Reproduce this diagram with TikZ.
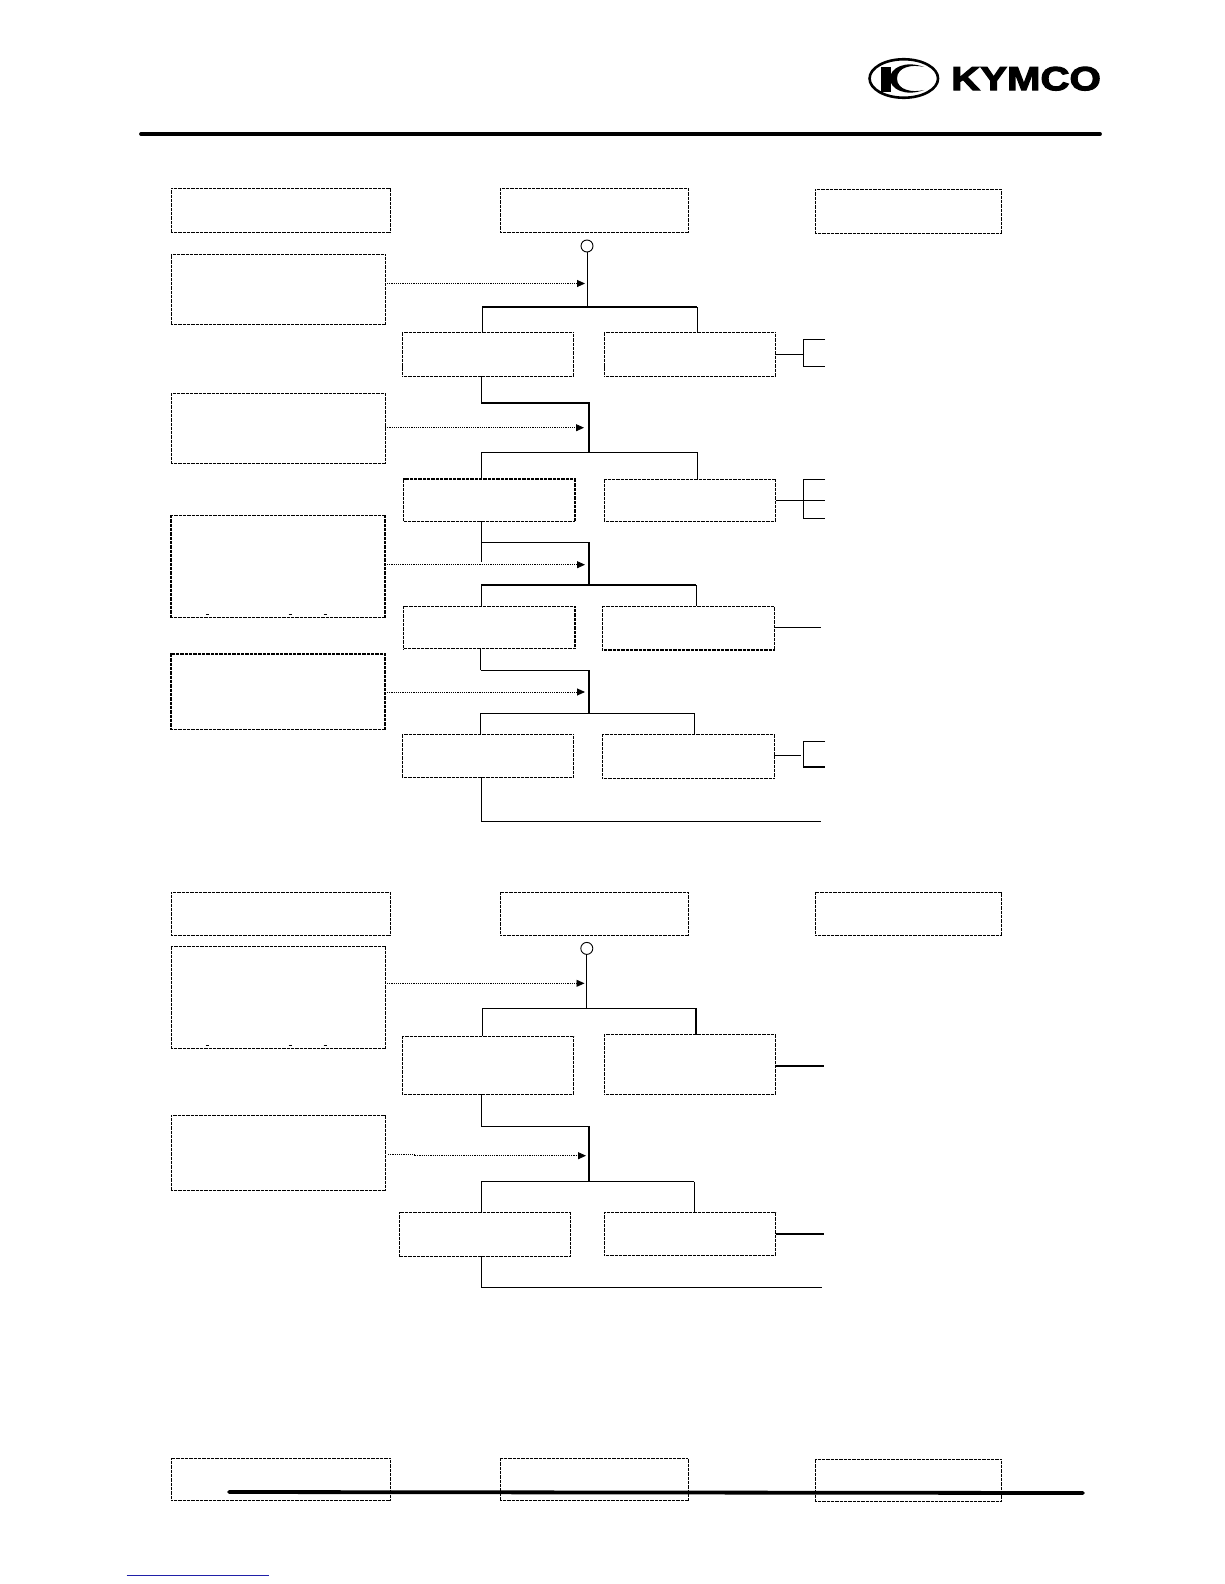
\documentclass[tikz,border=0pt]{standalone}
\usepackage{xcolor}
\usepackage{fontspec}
\setmainfont{Liberation Sans}
\newfontfamily\brandfont[FakeBold=3]{Liberation Sans Bold}
\usetikzlibrary{arrows.meta,calc,shapes.geometric}
\definecolor{linkblue}{HTML}{2020A8}
\tikzset{
  >={Stealth[length=8pt,width=7pt,inset=0pt]},
  box/.style={draw=black,line width=1pt,dash pattern=on 1pt off 0.3pt,inner sep=0pt,outer sep=0pt,anchor=north west},
  boxb/.style={box,line width=1.5pt},
  wh/.style 2 args={minimum width=#1pt,minimum height=#2pt},
  link/.style={draw=black,line width=0.9pt},
  linkb/.style={draw=black,line width=1.5pt},
  feed/.style={draw=black,line width=0.9pt,dash pattern=on 1.2pt off 1pt,->},
  rule/.style={draw=black,line width=3.8pt,line cap=round},
  start/.style={circle,draw=black,line width=0.9pt,minimum size=12pt,inner sep=0pt,outer sep=0pt},
}
\begin{document}
\begin{tikzpicture}[x=1pt,y=-1pt]
  \useasboundingbox (0,0) rectangle (1224,1584);
  % logo
  \node[draw=black,line width=2.6pt,ellipse,minimum width=68.5pt,minimum height=38.5pt,inner sep=0pt,outer sep=0pt] (ring) at (903.8,78.5) {};
  \fill[black] (881,66.7) rectangle (890.7,91.7);
  \fill[black] (924,67) .. controls (905,60) and (890,68) .. (890,78.5) .. controls (890,89) and (905,97) .. (924,90) .. controls (912,93) and (897,90) .. (897,78.5) .. controls (897,67) and (912,64) .. (924,67);
  \node[font=\brandfont\fontsize{33.5}{34}\selectfont,xscale=1.2,inner sep=0pt,anchor=west] (brand) at (951,78.7) {KYMCO};
  \coordinate (ra) at (141,134);
  \coordinate (rb) at (1100,134);
  \draw[rule] (ra) -- (rb);

  % first chart
  \node[box,wh={219}{44}] (hl1) at (171,188) {};
  \node[box,wh={188}{44}] (hm1) at (500,188) {};
  \node[box,wh={186}{44}] (hr1) at (815,189) {};
  \node[box,wh={214}{70}] (l1) at (171,254.5) {};
  \node[box,wh={214}{70}] (l2) at (171,393) {};
  \node[boxb,wh={214}{102}] (l3) at (171,515.5) {};
  \node[boxb,wh={214}{75.5}] (l4) at (171,654) {};
  \node[start] (c1) at (587,246) {};
  \node[box,wh={171.5}{44}] (a1) at (402.3,332.3) {};
  \node[box,wh={171.5}{44}] (b1) at (604.3,332.3) {};
  \node[boxb,wh={171.5}{42.3}] (a2) at (403.7,479) {};
  \node[box,wh={171.5}{42.3}] (b2) at (604.3,479) {};
  \node[boxb,wh={171.5}{42.4}] (a3) at (403.7,606.3) {};
  \node[boxb,wh={172}{43.7}] (b3) at (602.3,606.3) {};
  \node[box,wh={171.5}{42.7}] (a4) at (402.3,734.3) {};
  \node[box,wh={172}{44}] (b4) at (602.3,734.3) {};
  \coordinate (h1) at (585,283.5);
  \coordinate (h2) at (584,427.7);
  \coordinate (h3) at (585,564.7);
  \coordinate (h4) at (585,692);
  \draw[feed,shorten <=2pt] (h1 -| l1.east) -- (h1);
  \draw[feed] (h2 -| l2.east) -- (h2);
  \draw[feed,shorten <=2pt] (h3 -| l3.east) -- (h3);
  \draw[feed,shorten <=2pt] (h4 -| l4.east) -- (h4);
  \coordinate (bl1) at (482.5,307);
  \coordinate (br1) at (697,307);
  \coordinate (k1) at (481.3,403);
  \coordinate (t2) at (589,403);
  \coordinate (bl2) at (481.3,452);
  \coordinate (br2) at (697,452);
  \coordinate (k2) at (481,542.3);
  \coordinate (s2) at (481.5,561.7);
  \coordinate (t3) at (589,542.3);
  \coordinate (bl3) at (481.3,585);
  \coordinate (br3) at (696,585);
  \coordinate (k3) at (480.7,670.3);
  \coordinate (t4) at (589,670.3);
  \coordinate (bl4) at (480.7,713.3);
  \coordinate (br4) at (694.7,713.3);
  \coordinate (e4) at (481.5,821.7);
  \coordinate (f4) at (821,821.7);
  \draw[link] (c1) -- (c1 |- bl1);
  \draw[linkb] (bl1 |- a1.north) -- (bl1) -- (br1);
  \draw[link] (br1) -- (br1 |- b1.north);
  \draw[link] (k1 |- a1.south) -- (k1);
  \draw[linkb] (k1) -- (t2) -- (t2 |- bl2);
  \draw[link] (bl2 |- a2.north) -- (bl2) -- (br2) -- (br2 |- b2.north);
  \draw[link] (s2 |- a2.south) -- (s2);
  \draw[link] (k2) -- (t3);
  \draw[linkb] (t3) -- (t3 |- bl3);
  \draw[link] (bl3 |- a3.north) -- (bl3);
  \draw[linkb] (bl3) -- (br3);
  \draw[link] (br3) -- (br3 |- b3.north);
  \draw[link] (k3 |- a3.south) -- (k3);
  \draw[linkb] (k3) -- (t4) -- (t4 |- bl4);
  \draw[link] (bl4 |- a4.north) -- (bl4) -- (br4) -- (br4 |- b4.north);
  \draw[link] (e4 |- a4.south) -- (e4);
  \draw[linkb] (e4) -- (f4);
  % outputs
  \coordinate (v1a) at (803.3,339);
  \coordinate (v1b) at (803.3,366.3);
  \coordinate (o1a) at (825,339);
  \coordinate (o1b) at (825,366.3);
  \draw[linkb] (b1.east) -- (b1.east -| v1a);
  \draw[link] (o1a) -- (v1a) -- (v1b) -- (o1b);
  \coordinate (v2a) at (803.3,479);
  \coordinate (v2b) at (803.3,518);
  \coordinate (o2a) at (825,479);
  \coordinate (o2m) at (825,500);
  \coordinate (o2b) at (825,518);
  \draw[link] (b2.east) -- (b2.east -| v2a);
  \draw[link] (o2a) -- (v2a) -- (v2b) -- (o2b);
  \draw[link] (v2a |- o2m) -- (o2m);
  \coordinate (o3) at (821,627.3);
  \draw[link] (b3.east |- o3) -- (o3);
  \coordinate (v4a) at (803.3,741.3);
  \coordinate (v4b) at (803.3,767);
  \coordinate (o4a) at (825,741.3);
  \coordinate (o4b) at (825,767);
  \coordinate (m4) at (801,755);
  \draw[link] (b4.east |- m4) -- (m4);
  \draw[link] (o4a) -- (v4a) -- (v4b);
  \draw[linkb] (v4b) -- (o4b);
  % small marks
  \foreach \x in {207.3,290,325}
    \draw[line width=0.9pt] (\x-1.5,614.5) -- (\x+1.5,614.5);

  % second chart
  \node[box,wh={219}{43}] (hl2) at (171,892) {};
  \node[box,wh={188}{43}] (hm2) at (500,892) {};
  \node[box,wh={186}{43}] (hr2) at (815,892) {};
  \node[box,wh={214}{102}] (l5) at (171,946.4) {};
  \node[box,wh={214}{75}] (l6) at (171,1115) {};
  \node[start] (c2) at (586.8,948.4) {};
  \node[box,wh={171.5}{58}] (a5) at (402.3,1036.3) {};
  \node[box,wh={171.5}{59.6}] (b5) at (604.3,1034.7) {};
  \node[boxb,wh={171}{43.6}] (a6) at (399.7,1212.7) {};
  \node[box,wh={171.5}{42.6}] (b6) at (604.3,1212.7) {};
  \coordinate (h5) at (584.5,983.3);
  \coordinate (h6) at (586,1155.7);
  \coordinate (h6a) at (414,1155.7);
  \coordinate (h6b) at (414,1154);
  \draw[feed,shorten <=2pt] (h5 -| l5.east) -- (h5);
  \draw[feed,shorten <=3pt] (h6b -| l6.east) -- (h6b) -- (h6a) -- (h6);
  \coordinate (bl5) at (482.7,1008.3);
  \coordinate (br5) at (696,1008.3);
  \coordinate (k5) at (481.3,1126.7);
  \coordinate (t6) at (589,1126.7);
  \coordinate (bl6) at (481.3,1181.7);
  \coordinate (br6) at (694.3,1181.7);
  \coordinate (e6) at (481.3,1287.3);
  \coordinate (f6) at (822.3,1287.3);
  \draw[link] (c2) -- (c2 |- bl5);
  \draw[link] (bl5) -- (br5);
  \draw[linkb] (bl5 |- a5.north) -- (bl5);
  \draw[linkb] (br5) -- (br5 |- b5.north);
  \draw[link] (k5 |- a5.south) -- (k5);
  \draw[linkb] (k5) -- (t6) -- (t6 |- bl6);
  \draw[linkb] (bl6) -- (br6);
  \draw[link] (bl6 |- a6.north) -- (bl6);
  \draw[link] (br6) -- (br6 |- b6.north);
  \draw[link] (e6 |- a6.south) -- (e6) -- (f6);
  \coordinate (o5) at (824,1066);
  \coordinate (o6) at (824,1234);
  \draw[linkb] (b5.east |- o5) -- (o5);
  \draw[linkb] (b6.east |- o6) -- (o6);
  \foreach \x in {207.3,290,325}
    \draw[line width=0.9pt] (\x-1.5,1045.5) -- (\x+1.5,1045.5);

  % third row and footer
  \node[box,wh={219}{42}] (hl3) at (171,1458.3) {};
  \node[box,wh={188}{42}] (hm3) at (500,1458.3) {};
  \node[box,wh={186}{42.5}] (hr3) at (815,1459.4) {};
  \coordinate (fa) at (229,1492);
  \coordinate (fb) at (1083,1493);
  \draw[rule] (fa) -- (fb);
  \coordinate (ua) at (126.7,1575.3);
  \coordinate (ub) at (269,1575.3);
  \draw[draw=linkblue,line width=0.9pt] (ua) -- (ub);
\end{tikzpicture}
\end{document}
